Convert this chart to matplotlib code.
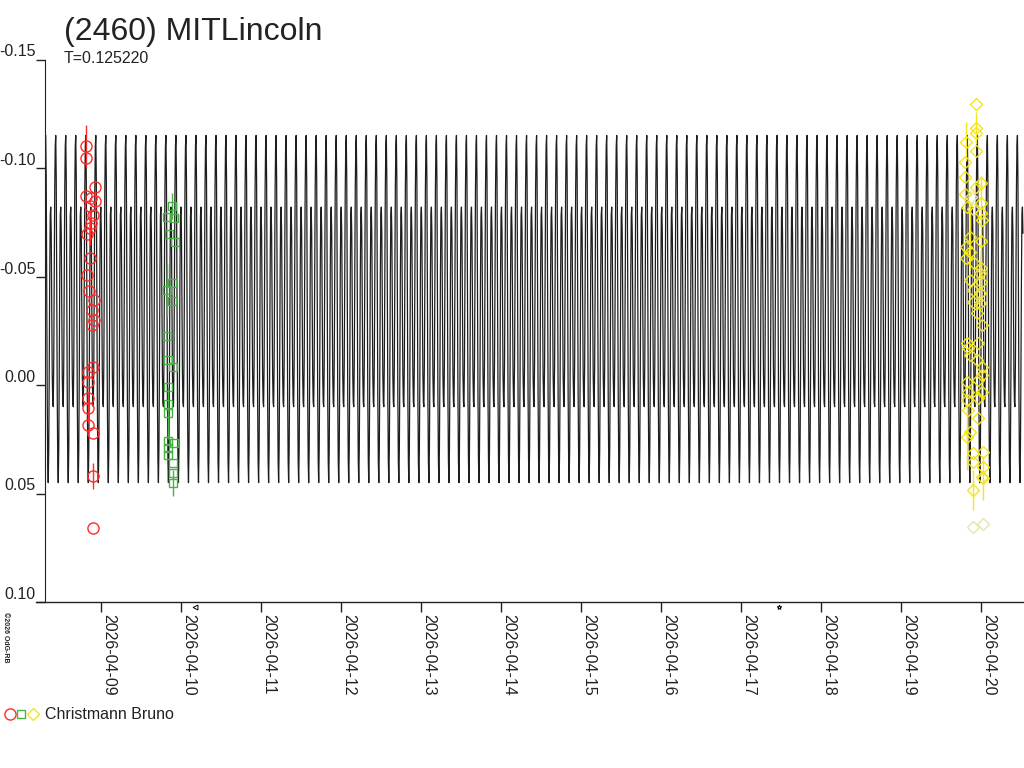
import numpy as np
import matplotlib.pyplot as plt
from matplotlib.lines import Line2D

plt.rcParams['font.family'] = ['Liberation Sans', 'DejaVu Sans']
plt.rcParams['axes.unicode_minus'] = False

# --- chart data ----------------------------------------------------------
title = "(2460) MITLincoln"
period_label = "T=0.125220"
observer = "Christmann Bruno"

PERIOD = 0.125220          # days
epoch = 8.309              # April day of a primary maximum
curve_start, curve_end = 8.30, 20.53

# one period of the model light curve (mag), sampled at equal phase steps
profile_mag = [-0.115, -0.095, -0.045, 0.005, 0.035, 0.045, 0.030, -0.005,
               -0.050, -0.078, -0.082, -0.070, -0.035, -0.005, 0.008, 0.010,
               -0.010, -0.050, -0.090, -0.110]

# session 1 (red circles) - day of April 2026, mag, error
s1_day = [8.809, 8.8125, 8.925, 8.8125, 8.875, 8.925, 8.8625, 8.90, 8.875,
          8.8625, 8.825, 8.8625, 8.825, 8.85, 8.9125, 8.8875, 8.9125, 8.8875,
          8.90, 8.8375, 8.8375, 8.8375, 8.8375, 8.8375, 8.90, 8.90, 8.90]
s1_mag = [-0.1100, -0.1046, -0.0912, -0.0871, -0.0862, -0.0848, -0.0825,
          -0.0783, -0.0747, -0.0723, -0.0696, -0.0585, -0.0507, -0.0433,
          -0.0392, -0.0346, -0.0300, -0.0276, -0.0083, -0.0060, -0.0014,
          0.0060, 0.0106, 0.0184, 0.0221, 0.0419, 0.0659]
s1_err = [0.010, 0, 0, 0, 0, 0, 0, 0, 0,
          0.008, 0, 0, 0, 0, 0, 0, 0, 0,
          0, 0, 0, 0, 0.007, 0, 0, 0.006, 0]

# session 2 (green squares)
s2_day = [9.8875, 9.825, 9.9125, 9.85, 9.925, 9.8875, 9.825, 9.8875, 9.825,
          9.8375, 9.90, 9.8375, 9.8375, 9.8375, 9.8375, 9.9125, 9.8375,
          9.8375, 9.90, 9.90, 9.90]
s2_mag = [-0.0825, -0.0774, -0.0770, -0.0696, -0.0659, -0.0470, -0.0438,
          -0.0387, -0.0226, -0.0115, -0.0083, 0.0009, 0.0088, 0.0129, 0.0258,
          0.0267, 0.0290, 0.0323, 0.0359, 0.0406, 0.0452]
s2_err = [0.006, 0, 0, 0, 0, 0, 0.012, 0, 0,
          0, 0, 0, 0, 0.012, 0, 0, 0, 0,
          0, 0, 0.006]

# session 3 (yellow diamonds), faded = rejected points
s3_day = [19.934, 19.9375, 19.9375, 19.8125, 19.9375, 19.80, 19.80, 20.0,
          19.9375, 19.80, 19.875, 20.0, 19.825, 19.90, 20.0, 20.0125, 19.8625,
          20.0, 19.8125, 19.8625, 19.8125, 19.9125, 20.0, 19.9875, 19.8625,
          20.0, 19.90, 19.9875, 19.90, 19.9875, 19.95, 20.0125, 19.825,
          19.9625, 19.8375, 19.8625, 19.95, 20.0125, 20.0125, 19.825, 19.9625,
          19.8375, 20.0125, 19.9625, 19.825, 19.8375, 19.9625, 19.8625,
          19.825, 19.90, 20.025, 19.90, 20.025, 20.0125, 20.025, 19.90,
          19.90, 20.025]
s3_mag = [-0.1295, -0.1184, -0.1161, -0.1120, -0.1078, -0.1028, -0.0958,
          -0.0931, -0.0912, -0.0880, -0.0866, -0.0839, -0.0820, -0.0811,
          -0.0793, -0.0760, -0.0682, -0.0664, -0.0636, -0.0613, -0.0585,
          -0.0562, -0.0539, -0.0516, -0.0484, -0.0475, -0.0438, -0.0424,
          -0.0382, -0.0378, -0.0332, -0.0276, -0.0194, -0.0194, -0.0170,
          -0.0138, -0.0115, -0.0083, -0.0046, -0.0014, -0.0023, 0.0032,
          0.0032, 0.0060, 0.0069, 0.0115, 0.0152, 0.0216, 0.0240, 0.0313,
          0.0309, 0.0355, 0.0378, 0.0424, 0.0429, 0.0484, 0.0654, 0.0641]
s3_err = [0, 0.0074, 0, 0.009, 0, 0, 0, 0, 0,
          0, 0, 0, 0, 0, 0, 0, 0.015, 0.030,
          0, 0, 0, 0, 0, 0, 0, 0, 0,
          0, 0, 0, 0, 0, 0, 0, 0, 0,
          0, 0, 0, 0, 0, 0, 0, 0, 0,
          0, 0, 0, 0.015, 0, 0, 0, 0, 0,
          0.010, 0.009, 0, 0]
s3_faded = [10, 13, 56, 57]

tick_days = list(range(9, 21))
tick_labels = ["2026-04-%02d" % d for d in tick_days]
ytick_vals = [-0.15, -0.10, -0.05, 0.00, 0.05, 0.10]

# small event markers under the time axis
event_days = [10.175, 17.475]
event_marks = ['<', '*']

# --- figure --------------------------------------------------------------
fig = plt.figure(figsize=(10.24, 7.68), dpi=100)
ax = fig.add_axes([45 / 1024, 1 - 602 / 768, 979 / 1024, (602 - 59.5) / 768])

# model curve: the phase profile repeated over the time span
n_prof = len(profile_mag)
n_cyc = int(np.ceil((curve_end - epoch) / PERIOD)) + 1
t_curve = epoch + np.arange(n_cyc * n_prof) / n_prof * PERIOD
m_curve = np.tile(profile_mag, n_cyc)
keep = (t_curve >= curve_start) & (t_curve <= curve_end)
ax.plot(t_curve[keep], m_curve[keep], color='#1e1e1e', lw=0.9, zorder=2)

red, green, yellow, faded = '#ff2a2a', '#47b347', '#f5e61a', '#e6e6a8'

ax.errorbar(s1_day, s1_mag, yerr=s1_err, fmt='o', ms=8, mfc='none',
            mec=red, mew=1, ecolor=red, elinewidth=1, capsize=0, zorder=4)
ax.errorbar(s2_day, s2_mag, yerr=s2_err, fmt='s', ms=6, mfc='none',
            mec=green, mew=1, ecolor=green, elinewidth=1, capsize=0, zorder=4)

s3_day = np.array(s3_day)
s3_mag = np.array(s3_mag)
s3_err = np.array(s3_err)
good = np.ones(len(s3_day), bool)
good[s3_faded] = False
ax.errorbar(s3_day[~good], s3_mag[~good], yerr=s3_err[~good], fmt='D', ms=6.5,
            mfc='none', mec=faded, mew=1, ecolor=faded, elinewidth=1,
            capsize=0, zorder=3)
ax.errorbar(s3_day[good], s3_mag[good], yerr=s3_err[good], fmt='D', ms=6.5,
            mfc='none', mec=yellow, mew=1, ecolor=yellow, elinewidth=1,
            capsize=0, zorder=4)

for d, mk in zip(event_days, event_marks):
    ax.plot([d], [0.1022], marker=mk, ms=3.5, mfc='none', mec='black',
            mew=0.7, clip_on=False, zorder=5)

ax.set_xlim(8.30, 20.5375)
ax.set_ylim(0.10, -0.15)

for side in ['top', 'right', 'bottom']:
    ax.spines[side].set_visible(False)
ax.spines['left'].set_color('#222222')
ax.add_line(Line2D([-9 / 979, 1], [0, 0], transform=ax.transAxes,
                   color='#222222', lw=1, clip_on=False))

ax.set_yticks(ytick_vals)
ax.set_yticklabels(["%.2f" % v for v in ytick_vals])
ax.tick_params(axis='y', direction='out', length=6.5, width=1, pad=0.5,
               labelsize=11.5, colors='#222222')
for lab in ax.get_yticklabels():
    lab.set_verticalalignment('bottom')

ax.set_xticks(tick_days)
ax.set_xticklabels(tick_labels, rotation=-90, ha='left', va='top')
ax.tick_params(axis='x', direction='out', length=7.2, width=1, pad=1.5,
               labelsize=11.5, colors='#222222')

fig.text(64 / 1024, 1 - 40 / 768, title, fontsize=23, color='#222222',
         va='baseline', ha='left')
fig.text(64 / 1024, 1 - 63 / 768, period_label, fontsize=11.5,
         color='#222222', va='baseline', ha='left')
fig.text(5 / 1024, 1 - 612 / 768, "\u00a92026 OdG-RB", fontsize=5,
         fontweight='bold', rotation=-90, ha='center', va='top',
         color='#222222')

# legend line at the bottom
fig.add_artist(Line2D([10 / 1024], [1 - 714 / 768], transform=fig.transFigure,
                      marker='o', ms=8, mfc='none', mec=red, mew=1, ls=''))
fig.add_artist(Line2D([21 / 1024], [1 - 714 / 768], transform=fig.transFigure,
                      marker='s', ms=6, mfc='none', mec=green, mew=1, ls=''))
fig.add_artist(Line2D([33 / 1024], [1 - 714 / 768], transform=fig.transFigure,
                      marker='D', ms=6, mfc='none', mec=yellow, mew=1, ls=''))
fig.text(45 / 1024, 1 - 719 / 768, observer, fontsize=11.5, color='#222222',
         va='baseline', ha='left')

fig.savefig("out.png", dpi=100)
